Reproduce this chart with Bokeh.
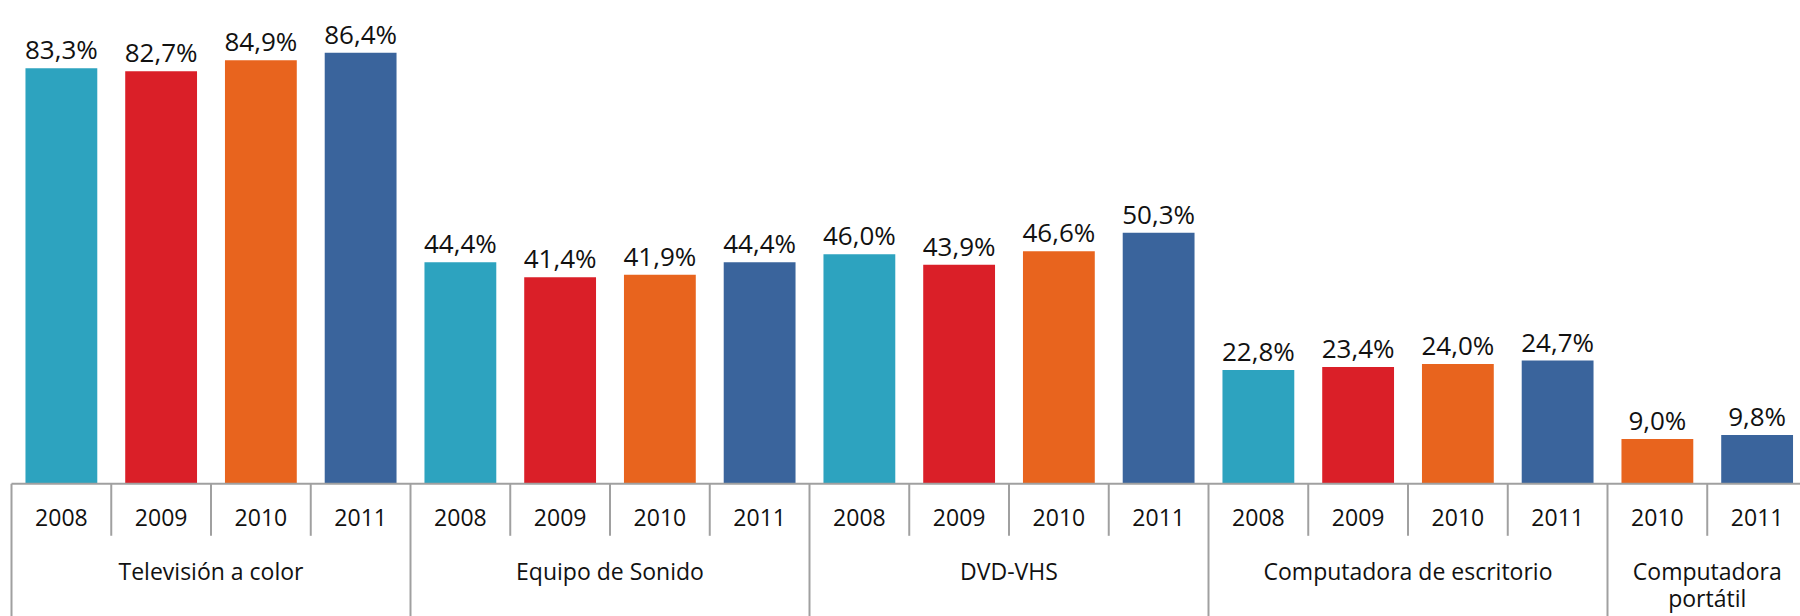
from bokeh.plotting import figure
from bokeh.models import Range1d, ColumnDataSource
from bokeh.core.properties import value
from bokeh.embed import file_html
from bokeh.resources import INLINE

# ---------------- data ----------------
groups = ["Televisión a color", "Equipo de Sonido", "DVD-VHS",
          "Computadora de escritorio", "Computadora\nportátil"]
years_tv = ["2008", "2009", "2010", "2011"]
years_sonido = ["2008", "2009", "2010", "2011"]
years_dvd = ["2008", "2009", "2010", "2011"]
years_escritorio = ["2008", "2009", "2010", "2011"]
years_portatil = ["2010", "2011"]
values_tv = [83.3, 82.7, 84.9, 86.4]
values_sonido = [44.4, 41.4, 41.9, 44.4]
values_dvd = [46.0, 43.9, 46.6, 50.3]
values_escritorio = [22.8, 23.4, 24.0, 24.7]
values_portatil = [9.0, 9.8]

group_years = [years_tv, years_sonido, years_dvd, years_escritorio, years_portatil]
group_values = [values_tv, values_sonido, values_dvd, values_escritorio, values_portatil]

year_colors = {"2008": "#2DA3BF", "2009": "#DA1F28", "2010": "#E8641E", "2011": "#3A649C"}

# ---------------- layout constants ----------------
W, H = 1800, 616
CAT_PX = 99.75          # pixels per category
UNIT_PX = 4.99          # pixels per percentage point
PX = 1.0 / UNIT_PX      # one pixel in y data units
AXIS_Y_PX = 483.3       # baseline, pixels from top
LEFT_PX = 11.0          # left edge of first category
x0 = -LEFT_PX / CAT_PX
x1 = x0 + W / CAT_PX
y_top = AXIS_Y_PX / UNIT_PX
y_bot = y_top - H / UNIT_PX

FONT = value("Open Sans")
LINE = "#A0A0A0"
TXT = "#111111"

# build flat tables
xs, tops, cols, yrs, labels = [], [], [], [], []
group_bounds = [0]
group_centers = []
i = 0
for gy, gv in zip(group_years, group_values):
    start = i
    for y, v in zip(gy, gv):
        xs.append(i + 0.5)
        tops.append(v)
        cols.append(year_colors[y])
        yrs.append(y)
        labels.append(f"{v:.1f}".replace(".", ",") + "%")
        i += 1
    group_bounds.append(i)
    group_centers.append((start + i) / 2)
N = i

src = ColumnDataSource(dict(x=xs, top=tops, color=cols, year=yrs, label=labels,
                            label_y=[t + 19 * PX for t in tops]))

p = figure(width=W, height=H, output_backend="svg", toolbar_location=None,
           x_range=Range1d(x0, x1), y_range=Range1d(y_bot, y_top),
           x_axis_location=None, y_axis_location=None,
           min_border=0, min_border_left=0, min_border_right=0,
           min_border_top=0, min_border_bottom=0)
p.outline_line_color = None
p.xgrid.visible = False
p.ygrid.visible = False
p.background_fill_color = "white"
p.border_fill_color = "white"

p.vbar(x="x", top="top", bottom=0, width=0.72, fill_color="color",
       line_color=None, source=src)

# value labels
p.text(x="x", y="label_y", text="label", source=src, text_align="center",
       text_baseline="alphabetic", text_font=FONT, text_font_size="26px",
       text_color=TXT)

# axis line
p.segment(x0=[0], y0=[0], x1=[x1 + 1], y1=[0], line_color=LINE, line_width=2)

# ticks between years and group separators
short_x = [b for b in range(1, N) if b not in group_bounds]
p.segment(x0=short_x, y0=[0] * len(short_x), x1=short_x,
          y1=[-52 * PX] * len(short_x), line_color=LINE, line_width=2)
long_x = [b for b in group_bounds if b < N]
p.segment(x0=long_x, y0=[0] * len(long_x), x1=long_x,
          y1=[y_bot - 5] * len(long_x), line_color=LINE, line_width=2)

# year labels
p.text(x=xs, y=[-34 * PX] * N, text=yrs, text_align="center",
       text_baseline="middle", text_font=FONT, text_font_size="23px",
       text_color=TXT)

# group labels
gx, gy, gt = [], [], []
for c, g in zip(group_centers, groups):
    for k, line in enumerate(g.split("\n")):
        gx.append(c)
        gy.append((-87.0 - 27.5 * k) * PX)
        gt.append(line)
p.text(x=gx, y=gy, text=gt, text_align="center", text_baseline="middle",
       text_font=FONT, text_font_size="23px", text_color=TXT)

open("out.html", "w").write(file_html(p, INLINE))
